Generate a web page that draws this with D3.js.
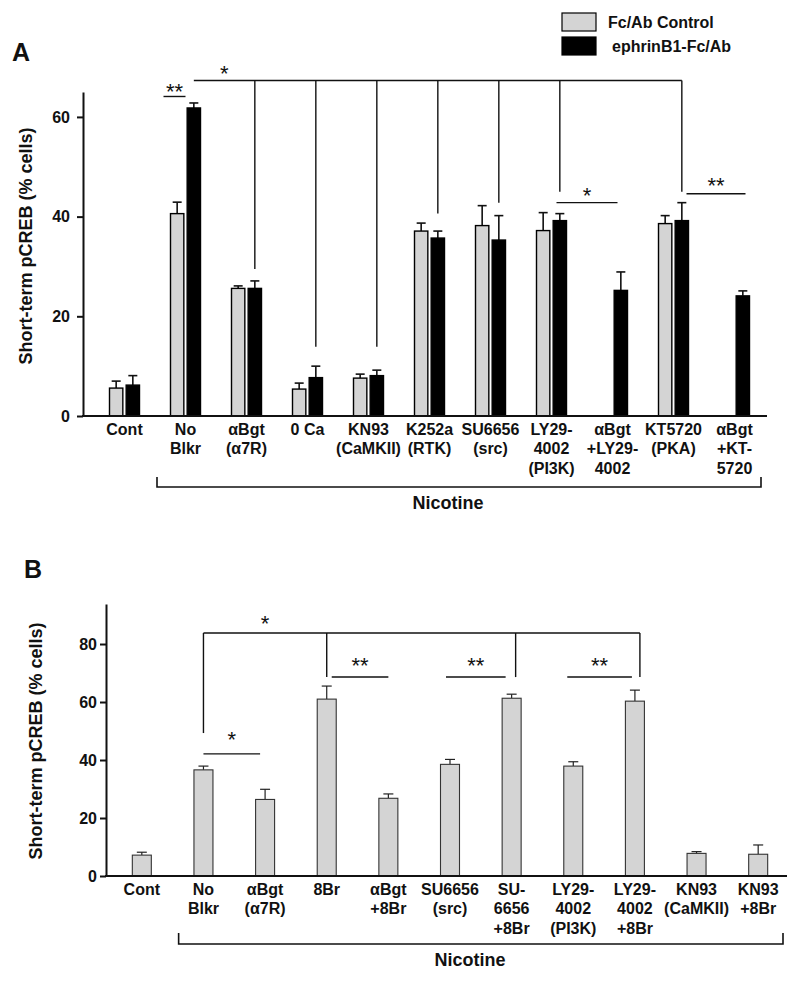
<!DOCTYPE html>
<html>
<head>
<meta charset="utf-8">
<script src="https://cdn.jsdelivr.net/npm/d3@7"></script>
<style>
  html, body { margin: 0; padding: 0; background: #fff; }
  svg { display: block; font-family: "Liberation Sans", Arial, Helvetica, sans-serif; }
</style>
</head>
<body>
<svg id="chart" width="800" height="984"></svg>
<script>
// ---------------- DATA ----------------
// Panel A
const catLabelsA = [["Cont"],["No","Blkr"],["αBgt","(α7R)"],["0 Ca"],["KN93","(CaMKII)"],["K252a","(RTK)"],["SU6656","(src)"],["LY29-","4002","(PI3K)"],["αBgt","+LY29-","4002"],["KT5720","(PKA)"],["αBgt","+KT-","5720"]];
const seriesNamesA = ["Fc/Ab Control", "ephrinB1-Fc/Ab"];
const controlA    = [5.6, 40.6, 25.6, 5.4, 7.6, 37.1, 38.2, 37.2, null, 38.6, null];
const controlErrA = [1.4, 2.3, 0.5, 1.2, 0.8, 1.6, 4.0, 3.6, null, 1.6, null];
const ephrinA     = [6.2, 61.8, 25.6, 7.7, 8.1, 35.7, 35.3, 39.2, 25.2, 39.2, 24.1];
const ephrinErrA  = [1.9, 1.0, 1.5, 2.3, 1.1, 1.4, 4.9, 1.4, 3.7, 3.6, 1.0];
const ticksA = [0, 20, 40, 60];

// Panel B
const catLabelsB = [["Cont"],["No","Blkr"],["αBgt","(α7R)"],["8Br"],["αBgt","+8Br"],["SU6656","(src)"],["SU-","6656","+8Br"],["LY29-","4002","(PI3K)"],["LY29-","4002","+8Br"],["KN93","(CaMKII)"],["KN93","+8Br"]];
const valuesB = [7.2, 36.6, 26.4, 61.0, 26.8, 38.5, 61.3, 37.9, 60.3, 7.8, 7.5];
const errB    = [1.0, 1.3, 3.5, 4.5, 1.5, 1.7, 1.4, 1.5, 3.8, 0.6, 3.2];
const ticksB = [0, 20, 40, 60, 80];

const yTitle = "Short-term pCREB (% cells)";
const groupTitle = "Nicotine";

// ---------------- SETUP ----------------
const svg = d3.select("#chart");
const GREY = "#d4d4d4";
const INK = "#111";
const keyA = catLabelsA.map(l => l.join(" "));
const keyB = catLabelsB.map(l => l.join(" "));

function asterisk(g, x, yCenter, txt) {
  g.append("text").attr("x", x).attr("y", yCenter + 11.5)
    .attr("text-anchor", "middle").attr("font-size", 22).attr("fill", INK).text(txt);
}
function hline(g, x1, x2, y) {
  g.append("line").attr("x1", x1).attr("x2", x2).attr("y1", y).attr("y2", y)
    .attr("stroke", INK).attr("stroke-width", 1.4);
}
function vline(g, x, y1, y2) {
  g.append("line").attr("x1", x).attr("x2", x).attr("y1", y1).attr("y2", y2)
    .attr("stroke", INK).attr("stroke-width", 1.4);
}
function yAxis(g, scale, ticks, x, pad) {
  const ax = g.append("g").attr("transform", `translate(${x},0)`)
    .call(d3.axisLeft(scale).tickValues(ticks).tickSize(6).tickSizeOuter(0).tickPadding(pad).tickFormat(d3.format("d")));
  ax.select(".domain").attr("stroke", INK).attr("stroke-width", 2);
  ax.selectAll(".tick line").attr("stroke", INK).attr("stroke-width", 2);
  ax.selectAll(".tick text").attr("font-size", 16).attr("font-weight", "bold").attr("fill", INK)
    .attr("font-family", "Liberation Sans, Arial, sans-serif");
  return ax;
}
function xLabels(g, scale, keys, labels, y0, x1, x2) {
  const ax = g.append("g").attr("transform", `translate(0,${y0})`)
    .call(d3.axisBottom(scale).tickSize(0).tickSizeOuter(0).tickFormat(""));
  ax.select(".domain").remove();
  g.append("line").attr("x1", x1).attr("x2", x2).attr("y1", y0).attr("y2", y0)
    .attr("stroke", INK).attr("stroke-width", 2);
  ax.selectAll(".tick").each(function(d) {
    const t = d3.select(this).append("text").attr("text-anchor", "middle")
      .attr("font-size", 16).attr("font-weight", "bold").attr("fill", INK)
      .attr("font-family", "Liberation Sans, Arial, sans-serif");
    const idx = keys.indexOf(d);
    labels[idx].forEach((line, j) => {
      t.append("tspan").attr("x", 0).attr("y", 18.5 + j * 19.5).text(line);
    });
  });
}
function groupBracket(g, x1, x2, yTop, yBot, labelX, labelY) {
  g.append("path").attr("d", `M${x1},${yTop}V${yBot}H${x2}V${yTop}`)
    .attr("fill", "none").attr("stroke", INK).attr("stroke-width", 1.6);
  g.append("text").attr("x", labelX).attr("y", labelY).attr("text-anchor", "middle")
    .attr("font-size", 18).attr("font-weight", "bold").attr("fill", INK).text(groupTitle);
}

// ---------------- PANEL A ----------------
{
  const g = svg.append("g");
  const axisX = 83, base = 416;
  const y = d3.scaleLinear().domain([0, 65]).range([base, 92]);
  const x = d3.scaleBand().domain(keyA).range([94, 765]);
  const sub = d3.scaleBand().domain(["c", "e"]).range([-15, 15]).paddingInner(0.2);
  const cx = k => x(k) + x.bandwidth() / 2;
  const bw = sub.bandwidth();

  const rows = [];
  keyA.forEach((k, i) => {
    if (controlA[i] != null) rows.push({k, s: "c", v: controlA[i], e: controlErrA[i]});
    if (ephrinA[i] != null) rows.push({k, s: "e", v: ephrinA[i], e: ephrinErrA[i]});
  });

  const eb = g.append("g");
  rows.forEach(r => {
    const mx = cx(r.k) + sub(r.s) + bw / 2;
    eb.append("line").attr("x1", mx).attr("x2", mx).attr("y1", y(r.v)).attr("y2", y(r.v + r.e))
      .attr("stroke", INK).attr("stroke-width", 1.6);
    eb.append("line").attr("x1", mx - 4.5).attr("x2", mx + 4.5).attr("y1", y(r.v + r.e)).attr("y2", y(r.v + r.e))
      .attr("stroke", INK).attr("stroke-width", 1.6);
  });

  g.append("g").selectAll("rect").data(rows).join("rect")
    .attr("x", d => cx(d.k) + sub(d.s))
    .attr("y", d => y(d.v))
    .attr("width", bw)
    .attr("height", d => base - y(d.v))
    .attr("fill", d => d.s === "c" ? GREY : "#000")
    .attr("stroke", "#000").attr("stroke-width", 1.4);

  yAxis(g, y, ticksA, axisX, 7);
  xLabels(g, x, keyA, catLabelsA, base, axisX - 1, 767);

  g.append("text").attr("transform", `translate(32,246) rotate(-90)`)
    .attr("text-anchor", "middle").attr("font-size", 18).attr("font-weight", "bold").attr("fill", INK).text(yTitle);

  g.append("text").attr("x", 12).attr("y", 61).attr("font-size", 25).attr("font-weight", "bold").attr("fill", INK).text("A");

  const ann = g.append("g");
  const blackC = k => cx(k) + sub("e") + bw / 2;
  const mainY = y(67.3);
  const drops = [[keyA[2], 29.5], [keyA[3], 13.9], [keyA[4], 13.9], [keyA[5], 40.6], [keyA[6], 42.8], [keyA[7], 45], [keyA[9], 45]];
  hline(ann, blackC(keyA[1]), blackC(keyA[9]), mainY);
  drops.forEach(([k, v]) => vline(ann, blackC(k), mainY, y(v)));
  asterisk(ann, (blackC(keyA[1]) + blackC(keyA[2])) / 2, y(69.5), "*");
  const pairs = [
    {a: keyA[1], oa: -22, b: keyA[1], ob: 0, v: 64.1, lv: 65.9, t: "**"},
    {a: keyA[7], oa: 5, b: keyA[8], ob: 5, v: 42.8, lv: 45.0, t: "*"},
    {a: keyA[9], oa: 13, b: keyA[10], ob: 11, v: 44.6, lv: 47.0, t: "**"}
  ];
  pairs.forEach(p => {
    const x1 = cx(p.a) + p.oa, x2 = cx(p.b) + p.ob;
    hline(ann, x1, x2, y(p.v));
    asterisk(ann, (x1 + x2) / 2, y(p.lv), p.t);
  });

  groupBracket(g, x(keyA[1]) + 2, 761, 477, 487, 448, 509);

  const lg = g.append("g");
  const legendItems = [{name: seriesNamesA[0], fill: GREY, y: 13, tx: 608}, {name: seriesNamesA[1], fill: "#000", y: 37, tx: 612}];
  legendItems.forEach(it => {
    lg.append("rect").attr("x", 562).attr("y", it.y).attr("width", 34).attr("height", 18)
      .attr("fill", it.fill).attr("stroke", "#000").attr("stroke-width", 1.2);
    lg.append("text").attr("x", it.tx).attr("y", it.y + 15).attr("font-size", 16).attr("font-weight", "bold")
      .attr("fill", INK).text(it.name);
  });
}

// ---------------- PANEL B ----------------
{
  const g = svg.append("g");
  const axisX = 106, base = 876;
  const y = d3.scaleLinear().domain([0, 93.8]).range([base, 604]);
  const x = d3.scaleBand().domain(keyB).range([111, 789]);
  const cx = k => x(k) + x.bandwidth() / 2;
  const bw = 19;
  const rows = keyB.map((k, i) => ({k, v: valuesB[i], e: errB[i]}));

  const eb = g.append("g");
  rows.forEach(r => {
    const mx = cx(r.k);
    eb.append("line").attr("x1", mx).attr("x2", mx).attr("y1", y(r.v)).attr("y2", y(r.v + r.e))
      .attr("stroke", "#222").attr("stroke-width", 1.2);
    eb.append("line").attr("x1", mx - 5).attr("x2", mx + 5).attr("y1", y(r.v + r.e)).attr("y2", y(r.v + r.e))
      .attr("stroke", "#222").attr("stroke-width", 1.2);
  });

  g.append("g").selectAll("rect").data(rows).join("rect")
    .attr("x", d => cx(d.k) - bw / 2)
    .attr("y", d => y(d.v))
    .attr("width", bw)
    .attr("height", d => base - y(d.v))
    .attr("fill", GREY).attr("stroke", "#333").attr("stroke-width", 1.1);

  yAxis(g, y, ticksB, axisX, 3);
  xLabels(g, x, keyB, catLabelsB, base, axisX - 1, 787);

  g.append("text").attr("transform", `translate(42,741) rotate(-90)`)
    .attr("text-anchor", "middle").attr("font-size", 18).attr("font-weight", "bold").attr("fill", INK).text(yTitle);

  g.append("text").attr("x", 24).attr("y", 578).attr("font-size", 25).attr("font-weight", "bold").attr("fill", INK).text("B");

  const ann = g.append("g");
  const mainY = y(83.8);
  hline(ann, cx(keyB[1]), cx(keyB[8]) + 5, mainY);
  vline(ann, cx(keyB[1]), mainY, y(49.3));
  vline(ann, cx(keyB[3]), mainY, y(68.6));
  vline(ann, cx(keyB[6]) + 4, mainY, y(68.6));
  vline(ann, cx(keyB[8]) + 5, mainY, y(68.6));
  asterisk(ann, (cx(keyB[1]) + cx(keyB[3])) / 2, y(88.6), "*");

  const pairs = [
    {a: keyB[1], oa: 0, b: keyB[2], ob: -5, v: 42.1, lv: 48.6, t: "*"},
    {a: keyB[3], oa: 5, b: keyB[4], ob: 0, v: 68.6, lv: 74.1, t: "**"},
    {a: keyB[5], oa: -4, b: keyB[6], ob: -6, v: 68.6, lv: 74.1, t: "**"},
    {a: keyB[7], oa: -6, b: keyB[8], ob: -3, v: 68.6, lv: 74.1, t: "**"}
  ];
  pairs.forEach(p => {
    const x1 = cx(p.a) + p.oa, x2 = cx(p.b) + p.ob;
    hline(ann, x1, x2, y(p.v));
    asterisk(ann, (x1 + x2) / 2, y(p.lv), p.t);
  });

  groupBracket(g, x(keyB[1]) + 6, 783, 933, 944, 470, 966);
}
</script>
</body>
</html>
